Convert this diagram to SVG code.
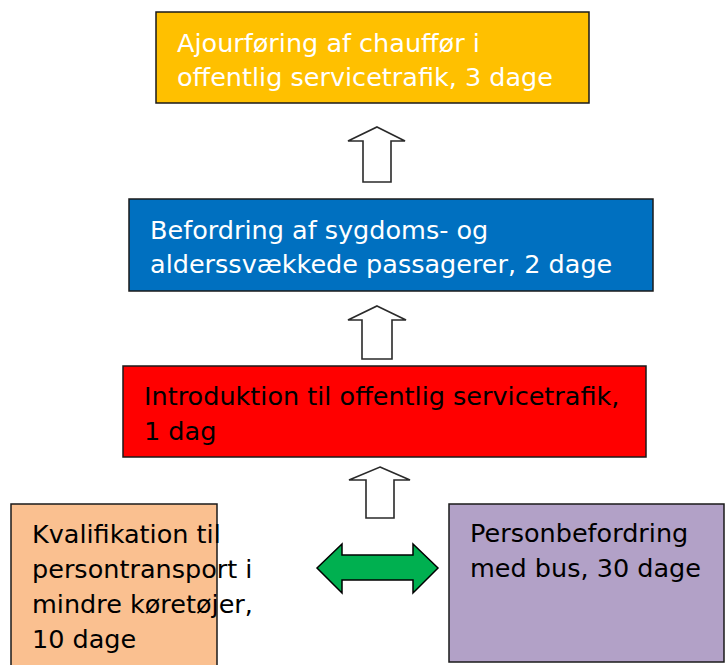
<svg xmlns="http://www.w3.org/2000/svg" width="726" height="665" viewBox="0 0 726 665">
<style>
.box{stroke:#1a1a1a;stroke-width:1.5}
.t{font-family:"DejaVu Sans","Liberation Sans",sans-serif;font-size:25.5px}
.w{fill:#ffffff}
.k{fill:#000000}
.up{fill:#ffffff;stroke:#2a2a2a;stroke-width:1.6;stroke-linejoin:miter}
.dbl{fill:#00B050;stroke:#000000;stroke-width:1.5}
</style>
<rect width="726" height="665" fill="#ffffff"/>
<g id="node-ajourfoering">
<rect class="box" x="156" y="12" width="433" height="91" fill="#FFC000"/>
<text class="t w" x="177" y="52">Ajourføring af chauffør i</text>
<text class="t w" x="177" y="86">offentlig servicetrafik, 3 dage</text>
</g>
<g id="node-befordring">
<rect class="box" x="129" y="199" width="524" height="92" fill="#0070C0"/>
<text class="t w" x="150" y="239">Befordring af sygdoms- og</text>
<text class="t w" x="150" y="273">alderssvækkede passagerer, 2 dage</text>
</g>
<g id="node-introduktion">
<rect class="box" x="123" y="366" width="523" height="91" fill="#FF0000"/>
<text class="t k" x="144" y="405">Introduktion til offentlig servicetrafik,</text>
<text class="t k" x="144" y="440">1 dag</text>
</g>
<g id="node-kvalifikation">
<rect class="box" x="11" y="504" width="206" height="170" fill="#FAC090"/>
<text class="t k" x="32" y="543">Kvalifikation til</text>
<text class="t k" x="32" y="578">persontransport i</text>
<text class="t k" x="32" y="613">mindre køretøjer,</text>
<text class="t k" x="32" y="648">10 dage</text>
</g>
<g id="node-personbefordring">
<rect class="box" x="449" y="504" width="275" height="158" fill="#B2A1C7"/>
<text class="t k" x="470" y="542">Personbefordring</text>
<text class="t k" x="470" y="577">med bus, 30 dage</text>
</g>
<g id="connectors">
<polygon class="up" points="377,127 405,141 391,141 391,182 363,182 363,141 348,141"/>
<polygon class="up" points="377,306 406,320 392,320 392,359 362,359 362,320 348,320"/>
<polygon class="up" points="380,467 410,480 394,480 394,518 366,518 366,480 349,480"/>
<polygon class="dbl" points="317,568 342,544 342,555 413,555 413,544 438,568 413,593 413,580 342,580 342,593"/>
</g>
</svg>
